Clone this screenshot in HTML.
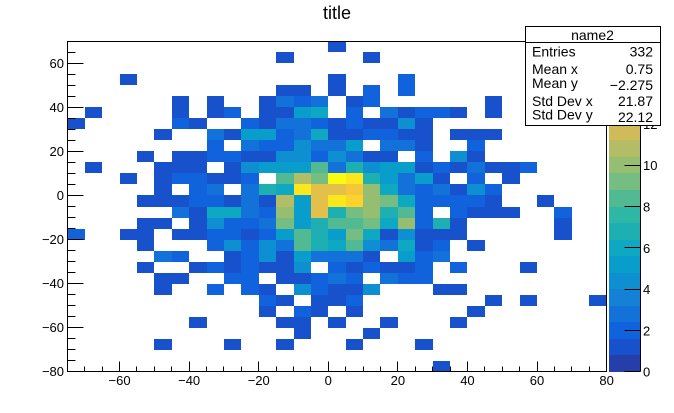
<!DOCTYPE html>
<html>
<head>
<meta charset="utf-8">
<title>title</title>
<style>
html,body{margin:0;padding:0;background:#fff;}
svg{display:block;font-family:"Liberation Sans",sans-serif;}
</style>
</head>
<body>
<svg id="chart" xmlns="http://www.w3.org/2000/svg" width="674" height="413" viewBox="0 0 674 413">
  <rect x="0" y="0" width="674" height="413" fill="#fff"/>
  <text x="337" y="19" font-size="18" text-anchor="middle" fill="#000">title</text>
  <g id="plot"></g>
  <g id="stats">
    <rect x="525.5" y="26.5" width="135" height="99" fill="#fff" stroke="#000" stroke-width="1"/>
    <line x1="525.5" y1="42.5" x2="660.5" y2="42.5" stroke="#000" stroke-width="1"/>
    <text x="592.5" y="40" font-size="14" text-anchor="middle">name2</text>
    <text x="532" y="56.5" font-size="14">Entries</text>
    <text x="653" y="56.5" font-size="14" text-anchor="end">332</text>
    <text x="532" y="74" font-size="14">Mean x</text>
    <text x="653" y="74" font-size="14" text-anchor="end">0.75</text>
    <text x="532" y="88" font-size="14">Mean y</text>
    <text x="653" y="90" font-size="14" text-anchor="end">−2.275</text>
    <text x="532" y="106" font-size="14">Std Dev x</text>
    <text x="653" y="106" font-size="14" text-anchor="end">21.87</text>
    <text x="532" y="119.5" font-size="14">Std Dev y</text>
    <text x="653" y="122" font-size="14" text-anchor="end">22.12</text>
  </g>
</svg>
<script>
// Bin counts: rows run top (y 65..70) to bottom (y -80..-75); columns run x -75..80.
const binCounts = [
[0,0,0,0,0,0,0,0,0,0,0,0,0,0,0,1,0,0,0,0,0,0,0,0,0,0,0,0,0,0,0],
[0,0,0,0,0,0,0,0,0,0,0,0,1,0,0,0,0,1,0,0,0,0,0,0,0,0,0,0,0,0,0],
[0,0,0,0,0,0,0,0,0,0,0,0,0,0,0,0,0,0,0,0,0,0,0,0,0,0,0,0,0,0,0],
[0,0,0,1,0,0,0,0,0,0,0,0,0,0,0,1,0,0,0,2,0,0,0,0,0,0,0,0,0,0,0],
[0,0,0,0,0,0,0,0,0,0,0,0,1,1,0,1,0,2,0,2,0,0,0,0,0,0,0,0,0,0,0],
[0,0,0,0,0,0,1,0,1,0,0,1,3,2,3,0,1,2,0,0,0,0,0,0,1,0,0,0,0,0,0],
[0,1,0,0,0,0,1,0,1,2,0,1,1,5,6,0,2,0,3,1,2,2,1,0,1,0,0,0,0,0,0],
[1,0,0,0,0,0,2,1,0,0,2,1,3,3,2,1,2,1,1,4,1,0,0,0,0,0,0,0,0,0,0],
[0,0,0,0,0,1,0,0,3,1,5,5,2,3,6,1,1,2,2,1,1,0,1,1,1,0,0,0,0,0,0],
[0,0,0,0,0,0,0,0,2,0,3,2,2,4,3,3,5,0,3,3,1,0,0,2,0,0,0,0,0,0,0],
[0,0,0,0,1,0,1,1,2,2,1,1,4,4,2,4,3,1,1,0,2,0,4,1,0,0,0,0,0,0,0],
[0,1,0,0,0,1,1,1,0,1,4,5,5,5,8,3,7,4,5,5,1,2,1,3,1,1,2,0,0,0,0],
[0,0,0,1,0,1,2,2,1,1,2,0,8,11,9,16,15,7,5,3,5,1,0,2,0,1,0,0,0,0,0],
[0,0,0,0,0,1,0,2,3,0,3,7,6,15,12,12,13,10,6,3,2,3,1,4,2,0,0,0,0,0,0],
[0,0,0,0,1,1,1,2,2,1,3,1,11,5,12,15,14,10,9,6,2,2,2,2,1,0,0,1,0,0,0],
[0,0,0,0,0,0,3,1,6,6,3,2,10,5,12,7,9,10,7,8,2,0,2,1,1,1,0,0,2,0,0],
[0,0,0,0,1,1,0,1,4,2,2,3,9,5,7,8,8,9,6,10,2,7,1,0,0,0,0,0,1,0,0],
[2,0,0,1,1,0,1,1,2,2,1,2,5,8,7,5,9,6,1,4,1,1,1,0,0,0,0,0,1,0,0],
[0,0,0,0,1,0,0,0,2,4,2,4,3,8,7,6,8,4,3,6,1,2,0,1,0,0,0,0,0,0,0],
[0,0,0,0,0,3,2,0,0,1,2,4,1,5,3,3,3,1,0,5,2,3,0,0,0,0,0,0,0,0,0],
[0,0,0,0,1,0,0,1,2,1,2,1,1,4,0,2,1,2,1,1,2,0,2,0,0,0,1,0,0,0,0],
[0,0,0,0,0,1,1,0,0,2,2,0,1,1,2,3,2,0,3,2,2,0,0,0,0,0,0,0,0,0,0],
[0,0,0,0,0,1,0,0,2,0,2,1,0,4,2,1,1,4,0,0,0,1,1,0,0,0,0,0,0,0,0],
[0,0,0,0,0,0,0,0,0,0,0,2,1,0,1,1,2,0,0,0,0,0,0,0,1,0,1,0,0,0,1],
[0,0,0,0,0,0,0,0,0,0,0,1,0,2,1,0,1,0,0,0,0,0,0,1,0,0,0,0,0,0,0],
[0,0,0,0,0,0,0,1,0,0,0,0,1,1,0,1,0,0,1,0,0,0,1,0,0,0,0,0,0,0,0],
[0,0,0,0,0,0,0,0,0,0,0,0,0,1,0,0,0,1,0,0,0,0,0,0,0,0,0,0,0,0,0],
[0,0,0,0,0,1,0,0,0,1,0,0,1,0,0,0,1,0,0,0,1,0,0,0,0,0,0,0,0,0,0],
[0,0,0,0,0,0,0,0,0,0,0,0,0,0,0,0,0,0,0,0,0,0,0,0,0,0,0,0,0,0,0],
[0,0,0,0,0,0,0,0,0,0,0,0,0,0,0,0,0,0,0,0,0,1,0,0,0,0,0,0,0,0,0]
];
const xTickLabels = [-60,-40,-20,0,20,40,60,80];
const yTickLabels = [-80,-60,-40,-20,0,20,40,60];
const zTickLabels = [0,2,4,6,8,10,12,14,16];

const NS = 'http://www.w3.org/2000/svg';
const plot = document.getElementById('plot');
const X_MIN = -75, X_MAX = 80, Y_MIN = -80, Y_MAX = 70, Z_MIN = 0, Z_MAX = 16;
const BIN = 5, BANDS = 20;
const L = 67.4, R = 606.6, T = 41.3, B = 371.7;
const PL = 609, PR = 640.3;
const birdStops = [[.2082,.1664,.5293],[.0592,.3599,.8684],[.0780,.5041,.8385],[.0232,.6419,.7914],[.1802,.7178,.6425],[.5301,.7492,.4662],[.8186,.7328,.3499],[.9956,.7862,.1968],[.9764,.9832,.0539]];

function xPx(v){ return L + (v - X_MIN) * (R - L) / (X_MAX - X_MIN); }
function yPx(v){ return B - (v - Y_MIN) * (B - T) / (Y_MAX - Y_MIN); }
function zPx(v){ return B - (v - Z_MIN) * (B - T) / (Z_MAX - Z_MIN); }
function bandColor(k){
  const t = Math.min(1, (k + 1) / BANDS) * (birdStops.length - 1);
  const i = Math.min(birdStops.length - 2, Math.floor(t));
  const f = t - i;
  const c = [0,1,2].map(function(j){ return Math.round(255 * (birdStops[i][j] + f * (birdStops[i+1][j] - birdStops[i][j]))); });
  return 'rgb(' + c.join(',') + ')';
}
function zColor(z){
  return bandColor(Math.min(BANDS - 1, Math.floor((z - Z_MIN) / (Z_MAX - Z_MIN) * BANDS)));
}
function rectEl(x0, y0, x1, y1, fill){
  const r = document.createElementNS(NS, 'rect');
  const xa = Math.round(x0), xb = Math.round(x1), ya = Math.round(y0), yb = Math.round(y1);
  r.setAttribute('x', xa);
  r.setAttribute('y', ya);
  r.setAttribute('width', xb - xa);
  r.setAttribute('height', yb - ya);
  r.setAttribute('fill', fill);
  r.setAttribute('shape-rendering', 'crispEdges');
  plot.appendChild(r);
  return r;
}
function lineEl(x1, y1, x2, y2){
  const l = document.createElementNS(NS, 'line');
  l.setAttribute('x1', Math.floor(x1) + .5);
  l.setAttribute('y1', Math.floor(y1) + .5);
  l.setAttribute('x2', Math.floor(x2) + .5);
  l.setAttribute('y2', Math.floor(y2) + .5);
  l.setAttribute('stroke', '#000');
  l.setAttribute('stroke-width', '1');
  l.setAttribute('shape-rendering', 'crispEdges');
  plot.appendChild(l);
  return l;
}
function textEl(x, y, str, anchor){
  const t = document.createElementNS(NS, 'text');
  t.setAttribute('x', x);
  t.setAttribute('y', y);
  t.setAttribute('font-size', '13');
  t.setAttribute('text-anchor', anchor);
  t.setAttribute('fill', '#000');
  t.textContent = String(str).replace('-', '\u2212');
  plot.appendChild(t);
  return t;
}

// heatmap cells
binCounts.forEach(function(row, r){
  row.forEach(function(count, c){
    if (count <= 0) return;
    const x0 = X_MIN + c * BIN;
    const yTop = Y_MAX - r * BIN;
    const cell = rectEl(xPx(x0), yPx(yTop), xPx(x0 + BIN), yPx(yTop - BIN), zColor(count));
    
    
  });
});

// frame
const frame = document.createElementNS(NS, 'rect');
frame.setAttribute('x', Math.floor(L) + .5);
frame.setAttribute('y', Math.floor(T) + .5);
frame.setAttribute('width', Math.floor(R) - Math.floor(L));
frame.setAttribute('height', Math.floor(B) - Math.floor(T));
frame.setAttribute('fill', 'none');
frame.setAttribute('stroke', '#000');
frame.setAttribute('stroke-width', '1');
frame.setAttribute('shape-rendering', 'crispEdges');


plot.appendChild(frame);

// x axis ticks
for (let v = X_MIN + BIN; v < X_MAX; v += BIN) {
  const minorX = lineEl(xPx(v), B, xPx(v), B - (xTickLabels.indexOf(v) >= 0 ? 10 : 5));
  
  
}
xTickLabels.forEach(function(v){
  const lab = textEl(xPx(v), 385, v, 'middle');
  
  
});

// y axis ticks
for (let v = Y_MIN + BIN; v < Y_MAX; v += BIN) {
  const minorY = lineEl(L, yPx(v), L + (yTickLabels.indexOf(v) >= 0 ? 16 : 8), yPx(v));
  
  
}
yTickLabels.forEach(function(v){
  const lab = textEl(64, yPx(v) + 4.5, v, 'end');
  
  
});

// colour bar
for (let k = 0; k < BANDS; k++) {
  const zLo = Z_MIN + k * (Z_MAX - Z_MIN) / BANDS;
  const zHi = Z_MIN + (k + 1) * (Z_MAX - Z_MIN) / BANDS;
  const band = rectEl(PL, zPx(zHi), PR, zPx(zLo), bandColor(k));
  
  
}
const zAxis = lineEl(PR, T, PR, B);


zTickLabels.forEach(function(v){
  const tick = lineEl(PR - 16, zPx(v), PR, zPx(v));
  
  
  const lab = textEl(643, zPx(v) + 5, v, 'start');
  
  
});
</script>
</body>
</html>
